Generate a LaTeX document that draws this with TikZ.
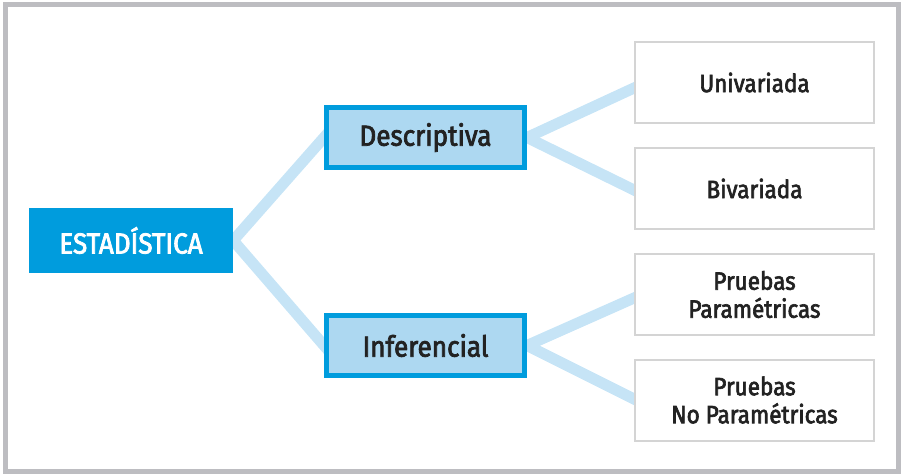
\documentclass[tikz,border=0pt]{standalone}
\usepackage{fontspec}
\setmainfont{Fira Sans}[FakeStretch=0.9, FakeBold=2.6]
\definecolor{framegray}{HTML}{BDBDC1}
\definecolor{boxgray}{HTML}{D4D4D4}
\definecolor{mainblue}{HTML}{009CDD}
\definecolor{lightfill}{HTML}{ADD8F1}
\definecolor{linkblue}{HTML}{C6E4F6}
\definecolor{txt}{HTML}{222222}
\pgfdeclarelayer{background}
\pgfsetlayers{background,main}
\tikzset{
  frame/.style={draw=framegray, line width=5pt},
  rootbox/.style={fill=mainblue, text=white, minimum width=204pt, minimum height=65pt,
    inner sep=0pt, font=\fontsize{29}{30}\selectfont},
  midbox/.style={draw=mainblue, line width=5pt, fill=lightfill, text=txt, minimum width=198pt,
    minimum height=60pt, inner sep=0pt, font=\fontsize{29}{30}\selectfont},
  leafbox/.style={draw=boxgray, line width=2pt, fill=white, text=txt, minimum width=239pt,
    minimum height=81pt, inner sep=0pt, align=center, font=\fontsize{25}{28}\selectfont},
  link/.style={draw=linkblue, line width=11pt, shorten <=-8pt, shorten >=-8pt}
}
\begin{document}
\begin{tikzpicture}[x=1pt,y=-1pt]
\useasboundingbox (0,0) rectangle (902,476);
\draw[frame] (5.5,4.5) rectangle (898,471.5);

\node[rootbox] (e) at (131,240.5) {ESTADÍSTICA};
\node[midbox] (d) at (425.5,137.5) {Descriptiva};
\node[midbox] (i) at (425.5,345.5) {Inferencial};
\node[leafbox] (u) at (754.5,82.5) {Univariada};
\node[leafbox] (b) at (754.5,188.5) {Bivariada};
\node[leafbox] (p) at (754.5,294.5) {Pruebas\\Paramétricas};
\node[leafbox] (n) at (754.5,400) {Pruebas\\No Paramétricas};

\begin{pgfonlayer}{background}
\draw[link] (e.east) -- (d.west);
\draw[link] (e.east) -- (i.west);
\draw[link] (d.east) -- ([yshift=-5.5pt]u.west);
\draw[link] (d.east) -- ([yshift=-1.5pt]b.west);
\draw[link] (i.east) -- ([yshift=-3.5pt]p.west);
\draw[link] (i.east) -- ([yshift=1pt]n.west);
\end{pgfonlayer}
\end{tikzpicture}
\end{document}
